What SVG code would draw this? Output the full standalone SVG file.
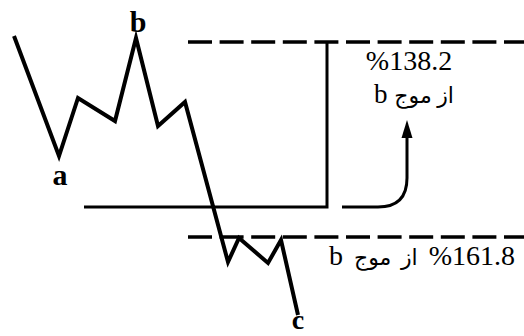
<svg xmlns="http://www.w3.org/2000/svg" width="524" height="336" viewBox="0 0 524 336">
  <style>
    .wave { fill: none; stroke: #000; stroke-width: 4; stroke-linejoin: miter; stroke-miterlimit: 10; }
    .solid { fill: none; stroke: #000; stroke-width: 3; }
    .dash { fill: none; stroke: #000; stroke-width: 3.3; stroke-dasharray: 24 7.6; }
    .lbl { font-family: "Liberation Serif", "Times New Roman", serif; font-weight: bold; font-size: 30px; fill: #000; text-anchor: middle; }
    .txt { font-family: "Liberation Serif", "DejaVu Serif", "DejaVu Sans", serif; font-size: 28px; fill: #000; text-anchor: middle; }
    .ar { font-size: 22px; }
    .head { fill: #000; }
  </style>
  <rect width="524" height="336" fill="#fff"/>
  <g id="wave">
    <polyline class="wave" points="14,36 59,156 78,98 115,121 136,38 158,126 185,102 228,262 239,238 268,263 281,240 298,315"/>
  </g>
  <g id="label-a"><text class="lbl" x="60" y="185">a</text></g>
  <g id="label-b"><text class="lbl" x="138" y="32">b</text></g>
  <g id="label-c"><text class="lbl" x="298" y="329" style="font-size:28px">c</text></g>
  <g id="level-1382">
    <line class="dash" x1="188" y1="42" x2="524" y2="42"/>
  </g>
  <g id="level-1618">
    <line class="dash" x1="188" y1="237" x2="524" y2="237"/>
  </g>
  <g id="range">
    <polyline class="solid" points="84,207 327,207 327,42"/>
  </g>
  <g id="text-1382">
    <text class="txt" x="409" y="70">%138.2</text>
    <text class="txt" x="414" y="103" direction="rtl" unicode-bidi="embed" style="font-size:27px"><tspan class="ar">از موج</tspan> b</text>
  </g>
  <g id="text-1618">
    <text class="txt" x="422" y="265" direction="rtl" unicode-bidi="embed" word-spacing="4">%161.8 <tspan class="ar">از موج</tspan> b</text>
  </g>
  <g id="connectors">
    <path class="solid" d="M342,207 H378 Q407,207 407,178 V134"/>
    <polygon class="head" points="407,120 401.5,138 412.5,138"/>
  </g>
</svg>
